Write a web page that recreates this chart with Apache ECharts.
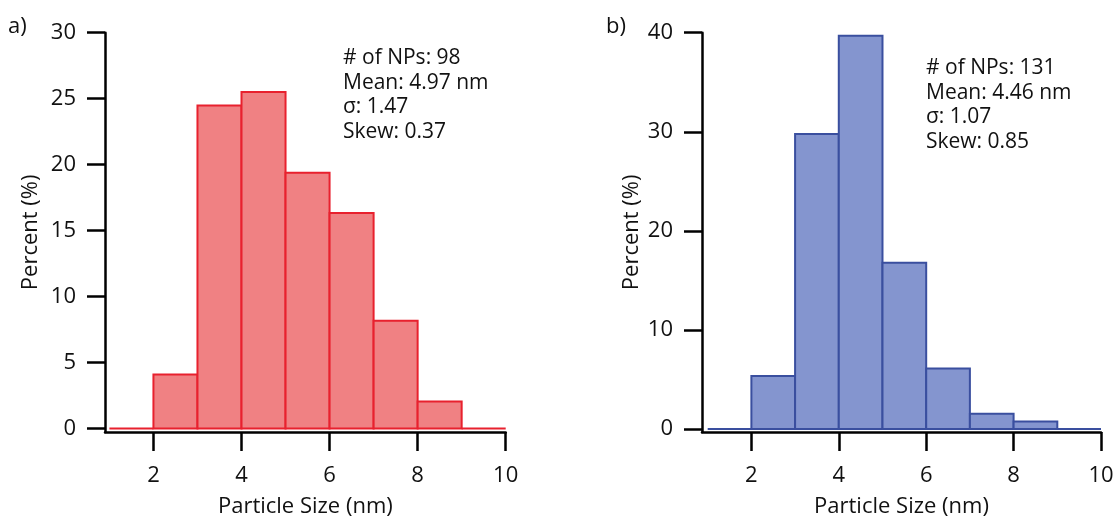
<!DOCTYPE html>
<html>
<head>
<meta charset="utf-8">
<script src="https://cdn.jsdelivr.net/npm/echarts@6/dist/echarts.min.js"></script>
<style>
  html, body { margin: 0; padding: 0; background: #ffffff; }
  #chart { width: 1115px; height: 520px; }
</style>
</head>
<body>
<div id="chart"></div>
<script>
// ---- data ----
const binEdges = [1, 2, 3, 4, 5, 6, 7, 8, 9, 10];
const percentA = [0, 4.08, 24.49, 25.51, 19.39, 16.33, 8.16, 2.04, 0];
const percentB = [0, 5.34, 29.77, 39.69, 16.79, 6.11, 1.53, 0.76, 0];
const xTickValues = [2, 4, 6, 8, 10];
const yTickValuesA = [0, 5, 10, 15, 20, 25, 30];
const yTickValuesB = [0, 10, 20, 30, 40];
const statsA = ['# of NPs: 98', 'Mean: 4.97 nm', 'σ: 1.47', 'Skew: 0.37'];
const statsB = ['# of NPs: 131', 'Mean: 4.46 nm', 'σ: 1.07', 'Skew: 0.85'];
const panelLabels = ['a)', 'b)'];
const xTitle = 'Particle Size (nm)';
const yTitle = 'Percent (%)';

const FONT = '"Open Sans", sans-serif';

function binsOf(values) {
  return values.map((v, i) => [binEdges[i], binEdges[i + 1], v]);
}

function histRender(fill, stroke) {
  return function (params, api) {
    const x0 = api.value(0), x1 = api.value(1), v = api.value(2);
    const pTop = api.coord([x0, v]);
    const pBot = api.coord([x1, 0]);
    return {
      type: 'rect',
      shape: { x: pTop[0], y: pTop[1], width: pBot[0] - pTop[0], height: pBot[1] - pTop[1] },
      style: { fill: fill, stroke: stroke, lineWidth: 2 }
    };
  };
}

function xAxisCfg(gridIndex, min) {
  return {
    type: 'value', gridIndex: gridIndex, min: min, max: 10,
    name: xTitle, nameLocation: 'middle', nameGap: 64,
    nameTextStyle: { fontFamily: FONT, fontSize: 22, color: '#111' },
    axisLine: { onZero: false, lineStyle: { color: '#000', width: 2.5 } },
    axisTick: { show: true, length: 19, lineStyle: { color: '#000', width: 2.5 }, customValues: xTickValues },
    axisLabel: { fontFamily: FONT, fontSize: 22, color: '#111', margin: 33, customValues: xTickValues },
    splitLine: { show: false }
  };
}

function yAxisCfg(gridIndex, min, max, ticks, nameGap) {
  return {
    type: 'value', gridIndex: gridIndex, min: min, max: max,
    name: yTitle, nameLocation: 'middle', nameGap: nameGap,
    nameTextStyle: { fontFamily: FONT, fontSize: 22, color: '#111' },
    axisLine: { show: true, onZero: false, lineStyle: { color: '#000', width: 2.5 } },
    axisTick: { show: true, length: 18, lineStyle: { color: '#000', width: 2.5 }, customValues: ticks },
    axisLabel: { fontFamily: FONT, fontSize: 22, color: '#111', margin: 29, customValues: ticks },
    splitLine: { show: false }
  };
}

const chart = echarts.init(document.getElementById('chart'), null, { renderer: 'canvas' });

chart.setOption({
  animation: false,
  backgroundColor: '#ffffff',
  grid: [
    { left: 105, top: 32.7, width: 400.7, height: 399.3, outerBoundsMode: 'none', containLabel: false },
    { left: 702, top: 32.7, width: 399, height: 399.3, outerBoundsMode: 'none', containLabel: false }
  ],
  xAxis: [xAxisCfg(0, 0.9), xAxisCfg(1, 0.87)],
  yAxis: [
    yAxisCfg(0, -0.27, 30, yTickValuesA, 63),
    yAxisCfg(1, -0.3, 40, yTickValuesB, 59)
  ],
  graphic: [
    { type: 'text', left: 8, top: 16, style: { text: panelLabels[0], font: '22px ' + FONT, fill: '#111' } },
    { type: 'text', left: 606, top: 16, style: { text: panelLabels[1], font: '22px ' + FONT, fill: '#111' } },
    { type: 'text', left: 343, top: 46, style: { text: statsA.join('\n'), font: '21px ' + FONT, lineHeight: 24.5, fill: '#111' } },
    { type: 'text', left: 926, top: 56, style: { text: statsB.join('\n'), font: '21px ' + FONT, lineHeight: 24.5, fill: '#111' } }
  ],
  series: [
    {
      type: 'custom', xAxisIndex: 0, yAxisIndex: 0,
      renderItem: histRender('#F08183', '#E8212E'),
      encode: { x: [0, 1], y: 2 },
      data: binsOf(percentA)
    },
    {
      type: 'custom', xAxisIndex: 1, yAxisIndex: 1,
      renderItem: histRender('#8495CF', '#3A4F9F'),
      encode: { x: [0, 1], y: 2 },
      data: binsOf(percentB)
    }
  ]
});
</script>
</body>
</html>
